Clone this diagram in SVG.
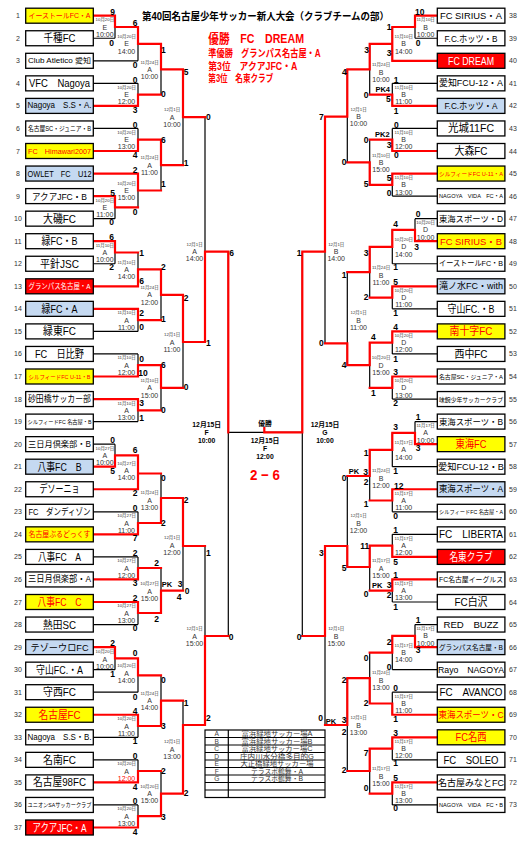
<svg xmlns="http://www.w3.org/2000/svg" width="529" height="853" viewBox="0 0 529 853">
<style>
text{font-family:"Liberation Sans","Noto Sans CJK JP",sans-serif;dominant-baseline:central}
.bx{fill:#fff;stroke:#000;stroke-width:1.3}
.y{fill:#ffff00}.r{fill:#ff0000}.b{fill:#c5d9f1}
.tn{text-anchor:middle;fill:#000}
.rt{fill:#ff0000}.wt{fill:#fff}
.num{font-size:7px;fill:#333;text-anchor:middle}
.k{stroke:#000;stroke-width:1.2;fill:none}
.rd{stroke:#ff0000;stroke-width:2.2;fill:none;stroke-linecap:square}
.sc{font-size:8.5px;font-weight:bold;text-anchor:middle;fill:#000}
.pk{font-size:7.5px;font-weight:bold;text-anchor:middle;fill:#000}
.d{font-size:4.4px;fill:#333;text-anchor:middle}
.c{font-size:7px;fill:#333;text-anchor:middle}
.fb{font-size:6.8px;font-weight:bold;text-anchor:middle;fill:#000}
.ttl{font-weight:bold;fill:#ff0000}
.lg{font-size:6.6px;fill:#444;text-anchor:middle}
.lv{font-size:6.3px;fill:#333;text-anchor:middle}
</style>

<text x="142" y="16" font-size="10" font-weight="bold" textLength="247" lengthAdjust="spacingAndGlyphs">第40回名古屋少年サッカー新人大会（クラブチームの部）</text>
<g id="results">
<text class="ttl" x="208.3" y="38.3" font-size="13" textLength="95.7" lengthAdjust="spacingAndGlyphs">優勝　FC　DREAM</text>
<text class="ttl" x="208.3" y="53.3" font-size="10" textLength="112.4" lengthAdjust="spacingAndGlyphs">準優勝　グランパス名古屋・A</text>
<text class="ttl" x="208.3" y="66.7" font-size="10" textLength="89" lengthAdjust="spacingAndGlyphs">第3位　アクアJFC・A</text>
<text class="ttl" x="208.3" y="78" font-size="10" textLength="65" lengthAdjust="spacingAndGlyphs">第3位　名東クラブ</text>
</g>

<g id="connectors">
<path class="k" d="M93.3 38.25H115M93.3 60.8H138M93.3 83.35H138M93.3 128.45H138M93.3 218.65H115M93.3 263.75H115M93.3 331.4H138M93.3 353.95H138M93.3 421.6H138M93.3 444.15H115M93.3 511.8H138M93.3 556.9H138M93.3 624.55H138M93.3 669.65H115M93.3 692.2H138M93.3 737.3H138M93.3 759.85H138M93.3 804.95H138
M115 15.7V38.25M138 27V60.8M138 83.35V105.9M161 43.9V94.6M138 128.45V151M115 196.1V218.65M138 173.55V207.4M161 139.7V190.5M183 69.3V165.1M115 241.2V263.75M138 252.5V286.3M138 308.85V331.4M161 269.4V320.1M138 353.95V376.5M138 399.05V421.6M161 365.2V410.3M183 294.8V387.8M205 117.2V342M115 444.15V466.7M138 455.4V489.25M138 511.8V534.35M161 473.5V523M138 556.9V579.45M138 602V624.55M161 568V613M183 498V590.7M115 647.1V669.65M138 658.4V692.2M138 714.75V737.3M161 675.3V726M138 759.85V782.4M138 804.95V827.5M161 771V816.2M183 700.7V793.6M205 546V725M228.3 251.7V636
M228.3 432.3H302.3
M437.3 38.25H415M437.3 83.35H392.3M437.3 128.45H392.3M437.3 196.1H392.3M437.3 218.65H415M437.3 263.75H392.3M437.3 308.85H392.3M437.3 353.95H392.3M437.3 399.05H392.3M437.3 421.6H415M437.3 466.7H392.3M437.3 511.8H392.3M437.3 534.35H392.3M437.3 602H392.3M437.3 624.55H415M437.3 669.65H392.3M437.3 692.2H392.3M437.3 759.85H392.3M437.3 804.95H392.3
M415 15.7V38.25M392.3 27V60.8M392.3 83.35V105.9M369.7 43.9V94.6M392.3 128.45V151M392.3 173.55V196.1M369.7 139.7V184.8M347.3 69.3V162.3M415 218.65V241.2M392.3 229.9V263.75M392.3 286.3V308.85M369.7 246.8V297.6M392.3 331.4V353.95M392.3 376.5V399.05M369.7 342.7V387.8M347.3 272.2V365.2M325 116.7V343.3M415 421.6V444.15M392.3 432.9V466.7M392.3 489.25V511.8M369.7 449.8V500.5M392.3 534.35V556.9M392.3 579.45V602M369.7 545.6V590.7M347.3 476V567M415 624.55V647.1M392.3 635.8V669.65M392.3 692.2V714.75M369.7 652.7V703.5M392.3 737.3V759.85M392.3 782.4V804.95M369.7 748.6V793.7M347.3 678.1V771M325 546V725M302.3 251.7V636"/>
<path class="rd" d="M93.3 15.7H115M93.3 105.9H138M93.3 151H138M93.3 173.55H138M93.3 196.1H115M93.3 241.2H115M93.3 286.3H138M93.3 308.85H138M93.3 376.5H138M93.3 399.05H138M93.3 466.7H115M93.3 489.25H138M93.3 534.35H138M93.3 579.45H138M93.3 602H138M93.3 647.1H115M93.3 714.75H138M93.3 782.4H138M93.3 827.5H138
M115 15.7V27H138M138 27V43.9H161M138 105.9V94.6H161M161 43.9V69.3H183M138 151V139.7H161M115 196.1V207.4H138M138 173.55V190.5H161M161 139.7V165.1H183M183 69.3V117.2H205
M115 241.2V252.5H138M138 286.3V269.4H161M138 308.85V320.1H161M161 269.4V294.8H183M138 376.5V365.2H161M138 399.05V410.3H161M161 365.2V387.8H183M183 294.8V342H205M205 342V251.7H228.3M228.3 251.7V432.3
M115 466.7V455.4H138M138 489.25V455.4M138 473.5H161M138 534.35V523H161M161 523V498H183M138 579.45V568H161M138 602V613H161M161 613V590.7H183M183 498V546H205M205 725V636H228.3
M115 647.1V658.4H138M138 658.4V675.3H161M138 714.75V726H161M161 726V700.7H183M138 782.4V771H161M138 827.5V816.2H161M161 816.2V793.6H183M183 793.6V725H205
M437.3 15.7H415M437.3 60.8H392.3M437.3 105.9H392.3M437.3 151H392.3M437.3 173.55H392.3M437.3 241.2H415M437.3 286.3H392.3M437.3 331.4H392.3M437.3 376.5H392.3M437.3 444.15H415M437.3 489.25H392.3M437.3 556.9H392.3M437.3 579.45H392.3M437.3 647.1H415M437.3 714.75H392.3M437.3 737.3H392.3M437.3 782.4H392.3
M415 15.7V27H392.3M392.3 27V60.8M392.3 43.9H369.7M392.3 105.9V94.6H369.7M369.7 43.9V69.3H347.3M392.3 151V139.7H369.7M392.3 173.55V184.8H369.7M369.7 184.8V162.3H347.3M347.3 69.3V116.7H325
M415 241.2V229.9H392.3M392.3 229.9V246.8H369.7M392.3 286.3V297.6H369.7M369.7 246.8V272.2H347.3M392.3 331.4V342.7H369.7M392.3 376.5V387.8H369.7M369.7 342.7V365.2H347.3M347.3 365.2V343.3H325M325 116.7V251.7H302.3M302.3 251.7V432.3H264.3V428
M415 444.15V432.9H392.3M392.3 432.9V449.8H369.7M392.3 489.25V500.5H369.7M369.7 449.8V476H347.3M392.3 556.9V545.6H369.7M392.3 579.45V590.7H369.7M369.7 545.6V567H347.3M347.3 567V546H325M325 546V636H302.3
M415 647.1V635.8H392.3M392.3 635.8V652.7H369.7M392.3 714.75V703.5H369.7M369.7 703.5V678.1H347.3M392.3 737.3V748.6H369.7M392.3 782.4V793.7H369.7M369.7 748.6V771H347.3M347.3 678.1V725H325"/>
</g>

<g id="teams-left">
<g id="team-1" transform="translate(0 15.7)"><rect class="bx y" x="25.7" y="-7.5" width="67.6" height="15"/><text class="tn rt" x="59.5" font-size="7.2" textLength="62" lengthAdjust="spacingAndGlyphs">イーストールFC・A</text><text class="num" x="18">1</text></g>
<g id="team-2" transform="translate(0 38.25)"><rect class="bx" x="25.7" y="-7.5" width="67.6" height="15"/><text class="tn" x="59.5" font-size="11" textLength="32" lengthAdjust="spacingAndGlyphs">千種FC</text><text class="num" x="18">2</text></g>
<g id="team-3" transform="translate(0 60.8)"><rect class="bx" x="25.7" y="-7.5" width="67.6" height="15"/><text class="tn" x="59.5" font-size="6.8" textLength="63" lengthAdjust="spacingAndGlyphs">Club Atletico 愛知</text><text class="num" x="18">3</text></g>
<g id="team-4" transform="translate(0 83.35)"><rect class="bx" x="25.7" y="-7.5" width="67.6" height="15"/><text class="tn" x="59.5" font-size="10.5" textLength="61" lengthAdjust="spacingAndGlyphs">VFC　Nagoya</text><text class="num" x="18">4</text></g>
<g id="team-5" transform="translate(0 105.9)"><rect class="bx b" x="25.7" y="-7.5" width="67.6" height="15"/><text class="tn" x="59.5" font-size="8.2" textLength="64" lengthAdjust="spacingAndGlyphs">Nagoya　S.S・A.</text><text class="num" x="18">5</text></g>
<g id="team-6" transform="translate(0 128.45)"><rect class="bx" x="25.7" y="-7.5" width="67.6" height="15"/><text class="tn" x="59.5" font-size="6.5" textLength="63" lengthAdjust="spacingAndGlyphs">名古屋SC・ジュニア・B</text><text class="num" x="18">6</text></g>
<g id="team-7" transform="translate(0 151)"><rect class="bx y" x="25.7" y="-7.5" width="67.6" height="15"/><text class="tn rt" x="59.5" font-size="7.5" textLength="63" lengthAdjust="spacingAndGlyphs">FC　Himawari2007</text><text class="num" x="18">7</text></g>
<g id="team-8" transform="translate(0 173.55)"><rect class="bx b" x="25.7" y="-7.5" width="67.6" height="15"/><text class="tn" x="59.5" font-size="8.5" textLength="64" lengthAdjust="spacingAndGlyphs">OWLET　FC　U12</text><text class="num" x="18">8</text></g>
<g id="team-9" transform="translate(0 196.1)"><rect class="bx" x="25.7" y="-7.5" width="67.6" height="15"/><text class="tn" x="59.5" font-size="9.5" textLength="55" lengthAdjust="spacingAndGlyphs">アクアJFC・B</text><text class="num" x="18">9</text></g>
<g id="team-10" transform="translate(0 218.65)"><rect class="bx" x="25.7" y="-7.5" width="67.6" height="15"/><text class="tn" x="59.5" font-size="11" textLength="33" lengthAdjust="spacingAndGlyphs">大磯FC</text><text class="num" x="18">10</text></g>
<g id="team-11" transform="translate(0 241.2)"><rect class="bx" x="25.7" y="-7.5" width="67.6" height="15"/><text class="tn" x="59.5" font-size="11" textLength="36" lengthAdjust="spacingAndGlyphs">緑FC・B</text><text class="num" x="18">11</text></g>
<g id="team-12" transform="translate(0 263.75)"><rect class="bx" x="25.7" y="-7.5" width="67.6" height="15"/><text class="tn" x="59.5" font-size="11" textLength="39" lengthAdjust="spacingAndGlyphs">平針JSC</text><text class="num" x="18">12</text></g>
<g id="team-13" transform="translate(0 286.3)"><rect class="bx r" x="25.7" y="-7.5" width="67.6" height="15"/><text class="tn wt" x="59.5" font-size="7.5" textLength="62" lengthAdjust="spacingAndGlyphs">グランパス名古屋・A</text><text class="num" x="18">13</text></g>
<g id="team-14" transform="translate(0 308.85)"><rect class="bx b" x="25.7" y="-7.5" width="67.6" height="15"/><text class="tn" x="59.5" font-size="11" textLength="36" lengthAdjust="spacingAndGlyphs">緑FC・A</text><text class="num" x="18">14</text></g>
<g id="team-15" transform="translate(0 331.4)"><rect class="bx" x="25.7" y="-7.5" width="67.6" height="15"/><text class="tn" x="59.5" font-size="11" textLength="33" lengthAdjust="spacingAndGlyphs">緑東FC</text><text class="num" x="18">15</text></g>
<g id="team-16" transform="translate(0 353.95)"><rect class="bx" x="25.7" y="-7.5" width="67.6" height="15"/><text class="tn" x="59.5" font-size="11" textLength="49" lengthAdjust="spacingAndGlyphs">FC　日比野</text><text class="num" x="18">16</text></g>
<g id="team-17" transform="translate(0 376.5)"><rect class="bx y" x="25.7" y="-7.5" width="67.6" height="15"/><text class="tn rt" x="59.5" font-size="6" textLength="62" lengthAdjust="spacingAndGlyphs">シルフィードFC U-11・B</text><text class="num" x="18">17</text></g>
<g id="team-18" transform="translate(0 399.05)"><rect class="bx" x="25.7" y="-7.5" width="67.6" height="15"/><text class="tn" x="59.5" font-size="9" textLength="63" lengthAdjust="spacingAndGlyphs">砂田橋サッカー部</text><text class="num" x="18">18</text></g>
<g id="team-19" transform="translate(0 421.6)"><rect class="bx" x="25.7" y="-7.5" width="67.6" height="15"/><text class="tn" x="59.5" font-size="5.6" textLength="64" lengthAdjust="spacingAndGlyphs">シルフィードFC 名古屋・B</text><text class="num" x="18">19</text></g>
<g id="team-20" transform="translate(0 444.15)"><rect class="bx" x="25.7" y="-7.5" width="67.6" height="15"/><text class="tn" x="59.5" font-size="8.5" textLength="63" lengthAdjust="spacingAndGlyphs">三日月倶楽部・B</text><text class="num" x="18">20</text></g>
<g id="team-21" transform="translate(0 466.7)"><rect class="bx b" x="25.7" y="-7.5" width="67.6" height="15"/><text class="tn" x="59.5" font-size="11" textLength="44" lengthAdjust="spacingAndGlyphs">八事FC　B</text><text class="num" x="18">21</text></g>
<g id="team-22" transform="translate(0 489.25)"><rect class="bx" x="25.7" y="-7.5" width="67.6" height="15"/><text class="tn" x="59.5" font-size="11" textLength="40" lengthAdjust="spacingAndGlyphs">デソーニョ</text><text class="num" x="18">22</text></g>
<g id="team-23" transform="translate(0 511.8)"><rect class="bx" x="25.7" y="-7.5" width="67.6" height="15"/><text class="tn" x="59.5" font-size="9.6" textLength="62" lengthAdjust="spacingAndGlyphs">FC　ダンディゾン</text><text class="num" x="18">23</text></g>
<g id="team-24" transform="translate(0 534.35)"><rect class="bx y" x="25.7" y="-7.5" width="67.6" height="15"/><text class="tn rt" x="59.5" font-size="7.8" textLength="62" lengthAdjust="spacingAndGlyphs">名古屋ぶるどっくす</text><text class="num" x="18">24</text></g>
<g id="team-25" transform="translate(0 556.9)"><rect class="bx" x="25.7" y="-7.5" width="67.6" height="15"/><text class="tn" x="59.5" font-size="11" textLength="43" lengthAdjust="spacingAndGlyphs">八事FC　A</text><text class="num" x="18">25</text></g>
<g id="team-26" transform="translate(0 579.45)"><rect class="bx" x="25.7" y="-7.5" width="67.6" height="15"/><text class="tn" x="59.5" font-size="9.2" textLength="63" lengthAdjust="spacingAndGlyphs">三日月倶楽部・A</text><text class="num" x="18">26</text></g>
<g id="team-27" transform="translate(0 602)"><rect class="bx y" x="25.7" y="-7.5" width="67.6" height="15"/><text class="tn rt" x="59.5" font-size="11" textLength="44" lengthAdjust="spacingAndGlyphs">八事FC　C</text><text class="num" x="18">27</text></g>
<g id="team-28" transform="translate(0 624.55)"><rect class="bx" x="25.7" y="-7.5" width="67.6" height="15"/><text class="tn" x="59.5" font-size="11" textLength="33" lengthAdjust="spacingAndGlyphs">熱田SC</text><text class="num" x="18">28</text></g>
<g id="team-29" transform="translate(0 647.1)"><rect class="bx b" x="25.7" y="-7.5" width="67.6" height="15"/><text class="tn" x="59.5" font-size="9.5" textLength="58" lengthAdjust="spacingAndGlyphs">テゾーウロFC</text><text class="num" x="18">29</text></g>
<g id="team-30" transform="translate(0 669.65)"><rect class="bx" x="25.7" y="-7.5" width="67.6" height="15"/><text class="tn" x="59.5" font-size="11" textLength="47" lengthAdjust="spacingAndGlyphs">守山FC.・A</text><text class="num" x="18">30</text></g>
<g id="team-31" transform="translate(0 692.2)"><rect class="bx" x="25.7" y="-7.5" width="67.6" height="15"/><text class="tn" x="59.5" font-size="11" textLength="33" lengthAdjust="spacingAndGlyphs">守西FC</text><text class="num" x="18">31</text></g>
<g id="team-32" transform="translate(0 714.75)"><rect class="bx y" x="25.7" y="-7.5" width="67.6" height="15"/><text class="tn rt" x="59.5" font-size="11" textLength="42" lengthAdjust="spacingAndGlyphs">名古屋FC</text><text class="num" x="18">32</text></g>
<g id="team-33" transform="translate(0 737.3)"><rect class="bx" x="25.7" y="-7.5" width="67.6" height="15"/><text class="tn" x="59.5" font-size="8.2" textLength="64" lengthAdjust="spacingAndGlyphs">Nagoya　S.S・B.</text><text class="num" x="18">33</text></g>
<g id="team-34" transform="translate(0 759.85)"><rect class="bx" x="25.7" y="-7.5" width="67.6" height="15"/><text class="tn" x="59.5" font-size="11" textLength="33" lengthAdjust="spacingAndGlyphs">名南FC</text><text class="num" x="18">34</text></g>
<g id="team-35" transform="translate(0 782.4)"><rect class="bx" x="25.7" y="-7.5" width="67.6" height="15"/><text class="tn" x="59.5" font-size="11" textLength="53" lengthAdjust="spacingAndGlyphs">名古屋98FC</text><text class="num" x="18">35</text></g>
<g id="team-36" transform="translate(0 804.95)"><rect class="bx" x="25.7" y="-7.5" width="67.6" height="15"/><text class="tn" x="59.5" font-size="5.8" textLength="64" lengthAdjust="spacingAndGlyphs">ユニオンSAサッカークラブ</text><text class="num" x="18">36</text></g>
<g id="team-37" transform="translate(0 827.5)"><rect class="bx r" x="25.7" y="-7.5" width="67.6" height="15"/><text class="tn wt" x="59.5" font-size="11" textLength="54" lengthAdjust="spacingAndGlyphs">アクアJFC・A</text><text class="num" x="18">37</text></g>
</g>

<g id="teams-right">
<g id="team-38" transform="translate(0 15.7)"><rect class="bx" x="437.3" y="-7.5" width="67.6" height="15"/><text class="tn" x="471" font-size="8.8" textLength="62" lengthAdjust="spacingAndGlyphs">FC SIRIUS・A</text><text class="num" x="513">38</text></g>
<g id="team-39" transform="translate(0 38.25)"><rect class="bx" x="437.3" y="-7.5" width="67.6" height="15"/><text class="tn" x="471" font-size="9.5" textLength="53" lengthAdjust="spacingAndGlyphs">F.C.ホッツ・B</text><text class="num" x="513">39</text></g>
<g id="team-40" transform="translate(0 60.8)"><rect class="bx r" x="437.3" y="-7.5" width="67.6" height="15"/><text class="tn wt" x="471" font-size="10.5" textLength="46" lengthAdjust="spacingAndGlyphs">FC DREAM</text><text class="num" x="513">40</text></g>
<g id="team-41" transform="translate(0 83.35)"><rect class="bx" x="437.3" y="-7.5" width="67.6" height="15"/><text class="tn" x="471" font-size="9.3" textLength="64" lengthAdjust="spacingAndGlyphs">愛知FCU-12・A</text><text class="num" x="513">41</text></g>
<g id="team-42" transform="translate(0 105.9)"><rect class="bx b" x="437.3" y="-7.5" width="67.6" height="15"/><text class="tn" x="471" font-size="9.5" textLength="53" lengthAdjust="spacingAndGlyphs">F.C.ホッツ・A</text><text class="num" x="513">42</text></g>
<g id="team-43" transform="translate(0 128.45)"><rect class="bx" x="437.3" y="-7.5" width="67.6" height="15"/><text class="tn" x="471" font-size="11" textLength="46" lengthAdjust="spacingAndGlyphs">光城11FC</text><text class="num" x="513">43</text></g>
<g id="team-44" transform="translate(0 151)"><rect class="bx" x="437.3" y="-7.5" width="67.6" height="15"/><text class="tn" x="471" font-size="11" textLength="33" lengthAdjust="spacingAndGlyphs">大森FC</text><text class="num" x="513">44</text></g>
<g id="team-45" transform="translate(0 173.55)"><rect class="bx y" x="437.3" y="-7.5" width="67.6" height="15"/><text class="tn rt" x="471" font-size="5.8" textLength="64" lengthAdjust="spacingAndGlyphs">シルフィードFC U-11・A</text><text class="num" x="513">45</text></g>
<g id="team-46" transform="translate(0 196.1)"><rect class="bx" x="437.3" y="-7.5" width="67.6" height="15"/><text class="tn" x="471" font-size="6" textLength="64" lengthAdjust="spacingAndGlyphs">NAGOYA　VIDA　FC・A</text><text class="num" x="513">46</text></g>
<g id="team-47" transform="translate(0 218.65)"><rect class="bx" x="437.3" y="-7.5" width="67.6" height="15"/><text class="tn" x="471" font-size="8.3" textLength="64" lengthAdjust="spacingAndGlyphs">東海スポーツ・D</text><text class="num" x="513">47</text></g>
<g id="team-48" transform="translate(0 241.2)"><rect class="bx y" x="437.3" y="-7.5" width="67.6" height="15"/><text class="tn rt" x="471" font-size="9.5" textLength="62" lengthAdjust="spacingAndGlyphs">FC SIRIUS・B</text><text class="num" x="513">48</text></g>
<g id="team-49" transform="translate(0 263.75)"><rect class="bx" x="437.3" y="-7.5" width="67.6" height="15"/><text class="tn" x="471" font-size="7.5" textLength="64" lengthAdjust="spacingAndGlyphs">イーストールFC・B</text><text class="num" x="513">49</text></g>
<g id="team-50" transform="translate(0 286.3)"><rect class="bx b" x="437.3" y="-7.5" width="67.6" height="15"/><text class="tn" x="471" font-size="9" textLength="64" lengthAdjust="spacingAndGlyphs">滝ノ水FC・with</text><text class="num" x="513">50</text></g>
<g id="team-51" transform="translate(0 308.85)"><rect class="bx" x="437.3" y="-7.5" width="67.6" height="15"/><text class="tn" x="471" font-size="11" textLength="47" lengthAdjust="spacingAndGlyphs">守山FC.・B</text><text class="num" x="513">51</text></g>
<g id="team-52" transform="translate(0 331.4)"><rect class="bx y" x="437.3" y="-7.5" width="67.6" height="15"/><text class="tn rt" x="471" font-size="11" textLength="43" lengthAdjust="spacingAndGlyphs">南十字FC</text><text class="num" x="513">52</text></g>
<g id="team-53" transform="translate(0 353.95)"><rect class="bx" x="437.3" y="-7.5" width="67.6" height="15"/><text class="tn" x="471" font-size="11" textLength="33" lengthAdjust="spacingAndGlyphs">西中FC</text><text class="num" x="513">53</text></g>
<g id="team-54" transform="translate(0 376.5)"><rect class="bx" x="437.3" y="-7.5" width="67.6" height="15"/><text class="tn" x="471" font-size="6.2" textLength="64" lengthAdjust="spacingAndGlyphs">名古屋SC・ジュニア・A</text><text class="num" x="513">54</text></g>
<g id="team-55" transform="translate(0 399.05)"><rect class="bx" x="437.3" y="-7.5" width="67.6" height="15"/><text class="tn" x="471" font-size="6.2" textLength="64" lengthAdjust="spacingAndGlyphs">味鋺少年サッカークラブ</text><text class="num" x="513">55</text></g>
<g id="team-56" transform="translate(0 421.6)"><rect class="bx" x="437.3" y="-7.5" width="67.6" height="15"/><text class="tn" x="471" font-size="8.3" textLength="64" lengthAdjust="spacingAndGlyphs">東海スポーツ・B</text><text class="num" x="513">56</text></g>
<g id="team-57" transform="translate(0 444.15)"><rect class="bx y" x="437.3" y="-7.5" width="67.6" height="15"/><text class="tn rt" x="471" font-size="11" textLength="31" lengthAdjust="spacingAndGlyphs">東海FC</text><text class="num" x="513">57</text></g>
<g id="team-58" transform="translate(0 466.7)"><rect class="bx" x="437.3" y="-7.5" width="67.6" height="15"/><text class="tn" x="471" font-size="9.3" textLength="66" lengthAdjust="spacingAndGlyphs">愛知FCU-12・B</text><text class="num" x="513">58</text></g>
<g id="team-59" transform="translate(0 489.25)"><rect class="bx b" x="437.3" y="-7.5" width="67.6" height="15"/><text class="tn" x="471" font-size="9" textLength="64" lengthAdjust="spacingAndGlyphs">東海スポーツ・A</text><text class="num" x="513">59</text></g>
<g id="team-60" transform="translate(0 511.8)"><rect class="bx" x="437.3" y="-7.5" width="67.6" height="15"/><text class="tn" x="471" font-size="5.5" textLength="64" lengthAdjust="spacingAndGlyphs">シルフィードFC 名古屋・A</text><text class="num" x="513">60</text></g>
<g id="team-61" transform="translate(0 534.35)"><rect class="bx" x="437.3" y="-7.5" width="67.6" height="15"/><text class="tn" x="471" font-size="10" textLength="64" lengthAdjust="spacingAndGlyphs">FC　LIBERTA</text><text class="num" x="513">61</text></g>
<g id="team-62" transform="translate(0 556.9)"><rect class="bx r" x="437.3" y="-7.5" width="67.6" height="15"/><text class="tn wt" x="471" font-size="11" textLength="43" lengthAdjust="spacingAndGlyphs">名東クラブ</text><text class="num" x="513">62</text></g>
<g id="team-63" transform="translate(0 579.45)"><rect class="bx" x="437.3" y="-7.5" width="67.6" height="15"/><text class="tn" x="471" font-size="7.2" textLength="64" lengthAdjust="spacingAndGlyphs">FC名古屋イーグルス</text><text class="num" x="513">63</text></g>
<g id="team-64" transform="translate(0 602)"><rect class="bx" x="437.3" y="-7.5" width="67.6" height="15"/><text class="tn" x="471" font-size="11" textLength="33" lengthAdjust="spacingAndGlyphs">FC白沢</text><text class="num" x="513">64</text></g>
<g id="team-65" transform="translate(0 624.55)"><rect class="bx" x="437.3" y="-7.5" width="67.6" height="15"/><text class="tn" x="471" font-size="9.5" textLength="55" lengthAdjust="spacingAndGlyphs">RED　BUZZ</text><text class="num" x="513">65</text></g>
<g id="team-66" transform="translate(0 647.1)"><rect class="bx b" x="437.3" y="-7.5" width="67.6" height="15"/><text class="tn" x="471" font-size="7" textLength="64" lengthAdjust="spacingAndGlyphs">グランパス名古屋・B</text><text class="num" x="513">66</text></g>
<g id="team-67" transform="translate(0 669.65)"><rect class="bx" x="437.3" y="-7.5" width="67.6" height="15"/><text class="tn" x="471" font-size="9.5" textLength="66" lengthAdjust="spacingAndGlyphs">Rayo　NAGOYA</text><text class="num" x="513">67</text></g>
<g id="team-68" transform="translate(0 692.2)"><rect class="bx" x="437.3" y="-7.5" width="67.6" height="15"/><text class="tn" x="471" font-size="10.5" textLength="63" lengthAdjust="spacingAndGlyphs">FC　AVANCO</text><text class="num" x="513">68</text></g>
<g id="team-69" transform="translate(0 714.75)"><rect class="bx y" x="437.3" y="-7.5" width="67.6" height="15"/><text class="tn rt" x="471" font-size="9" textLength="65" lengthAdjust="spacingAndGlyphs">東海スポーツ・C</text><text class="num" x="513">69</text></g>
<g id="team-70" transform="translate(0 737.3)"><rect class="bx y" x="437.3" y="-7.5" width="67.6" height="15"/><text class="tn rt" x="471" font-size="11" textLength="31" lengthAdjust="spacingAndGlyphs">FC名西</text><text class="num" x="513">70</text></g>
<g id="team-71" transform="translate(0 759.85)"><rect class="bx" x="437.3" y="-7.5" width="67.6" height="15"/><text class="tn" x="471" font-size="11" textLength="55" lengthAdjust="spacingAndGlyphs">FC　SOLEO</text><text class="num" x="513">71</text></g>
<g id="team-72" transform="translate(0 782.4)"><rect class="bx" x="437.3" y="-7.5" width="67.6" height="15"/><text class="tn" x="471" font-size="9.5" textLength="66" lengthAdjust="spacingAndGlyphs">名古屋みなとFC</text><text class="num" x="513">72</text></g>
<g id="team-73" transform="translate(0 804.95)"><rect class="bx" x="437.3" y="-7.5" width="67.6" height="15"/><text class="tn" x="471" font-size="6" textLength="64" lengthAdjust="spacingAndGlyphs">NAGOYA　VIDA　FC・B</text><text class="num" x="513">73</text></g>
</g>

<g id="match-labels">
<g transform="translate(104.8 27)"><text y="-7.3" class="d">10月20日</text><text class="c">E</text><text y="7.3" class="c">10:00</text></g>
<g transform="translate(126.5 43.9)"><text y="-7.3" class="d">10月20日</text><text class="c">E</text><text y="7.3" class="c">14:00</text></g>
<g transform="translate(126.5 94.6)"><text y="-7.3" class="d">10月20日</text><text class="c">E</text><text y="7.3" class="c">12:00</text></g>
<g transform="translate(149.5 69.3)"><text y="-7.3" class="d">11月24日</text><text class="c">A</text><text y="7.3" class="c">10:00</text></g>
<g transform="translate(126.5 139.7)"><text y="-7.3" class="d">10月20日</text><text class="c">E</text><text y="7.3" class="c">13:00</text></g>
<g transform="translate(104.8 207.4)"><text y="-7.3" class="d">10月20日</text><text class="c">E</text><text y="7.3" class="c">11:00</text></g>
<g transform="translate(126.5 190.5)"><text y="-7.3" class="d">10月20日</text><text class="c">E</text><text y="7.3" class="c">15:00</text></g>
<g transform="translate(149.5 165.1)"><text y="-7.3" class="d">11月24日</text><text class="c">A</text><text y="7.3" class="c">11:00</text></g>
<g transform="translate(172 117.2)"><text y="-7.3" class="d">12月1日</text><text class="c">A</text><text y="7.3" class="c">10:00</text></g>
<g transform="translate(104.8 252.5)"><text y="-7.3" class="d">11月10日</text><text class="c">A</text><text y="7.3" class="c">10:00</text></g>
<g transform="translate(126.5 269.4)"><text y="-7.3" class="d">11月10日</text><text class="c">A</text><text y="7.3" class="c">14:00</text></g>
<g transform="translate(126.5 320.1)"><text y="-7.3" class="d">11月10日</text><text class="c">A</text><text y="7.3" class="c">11:00</text></g>
<g transform="translate(149.5 294.8)"><text y="-7.3" class="d">11月24日</text><text class="c">A</text><text y="7.3" class="c">12:00</text></g>
<g transform="translate(126.5 365.2)"><text y="-7.3" class="d">11月10日</text><text class="c">A</text><text y="7.3" class="c">12:00</text></g>
<g transform="translate(126.5 410.3)"><text y="-7.3" class="d">11月10日</text><text class="c">A</text><text y="7.3" class="c">13:00</text></g>
<g transform="translate(149.5 387.8)"><text y="-7.3" class="d">11月10日</text><text class="c">A</text><text y="7.3" class="c">15:00</text></g>
<g transform="translate(172 342)"><text y="-7.3" class="d">12月1日</text><text class="c">A</text><text y="7.3" class="c">11:00</text></g>
<g transform="translate(194.5 251.7)"><text y="-7.3" class="d">12月1日</text><text class="c">A</text><text y="7.3" class="c">14:00</text></g>
<g transform="translate(104.8 455.4)"><text y="-7.3" class="d">10月27日</text><text class="c">A</text><text y="7.3" class="c">10:00</text></g>
<g transform="translate(126.5 470.7)"><text y="-7.3" class="d">10月27日</text><text class="c">A</text><text y="7.3" class="c">14:00</text></g>
<g transform="translate(126.5 523)"><text y="-7.3" class="d">10月27日</text><text class="c">A</text><text y="7.3" class="c">11:00</text></g>
<g transform="translate(149.5 500)"><text y="-7.3" class="d">11月24日</text><text class="c">A</text><text y="7.3" class="c">13:00</text></g>
<g transform="translate(126.5 568)"><text y="-7.3" class="d">10月27日</text><text class="c">A</text><text y="7.3" class="c">12:00</text></g>
<g transform="translate(126.5 613)"><text y="-7.3" class="d">10月27日</text><text class="c">A</text><text y="7.3" class="c">13:00</text></g>
<g transform="translate(149.5 591)"><text y="-7.3" class="d">10月27日</text><text class="c">A</text><text y="7.3" class="c">15:00</text></g>
<g transform="translate(172 545)"><text y="-7.3" class="d">12月1日</text><text class="c">A</text><text y="7.3" class="c">12:00</text></g>
<g transform="translate(104.8 659)"><text y="-7.3" class="d">10月20日</text><text class="c">A</text><text y="7.3" class="c">10:00</text></g>
<g transform="translate(126.5 673)"><text y="-7.3" class="d">10月20日</text><text class="c">A</text><text y="7.3" class="c">14:00</text></g>
<g transform="translate(126.5 726)"><text y="-7.3" class="d">10月20日</text><text class="c">A</text><text y="7.3" class="c">11:00</text></g>
<g transform="translate(149.5 700.7)"><text y="-7.3" class="d">11月24日</text><text class="c">A</text><text y="7.3" class="c">14:00</text></g>
<g transform="translate(126.5 771)"><text y="-7.3" class="d">10月20日</text><text class="c">A</text><text y="7.3" class="c" style="fill:#ff0000">12:00</text></g>
<g transform="translate(126.5 816)"><text y="-7.3" class="d">10月20日</text><text class="c">A</text><text y="7.3" class="c">13:00</text></g>
<g transform="translate(149.5 793.6)"><text y="-7.3" class="d">10月20日</text><text class="c">A</text><text y="7.3" class="c">15:00</text></g>
<g transform="translate(172 749)"><text y="-7.3" class="d">12月1日</text><text class="c">A</text><text y="7.3" class="c">13:00</text></g>
<g transform="translate(194.5 636)"><text y="-7.3" class="d">12月1日</text><text class="c">A</text><text y="7.3" class="c">15:00</text></g>

<g transform="translate(425.6 27)"><text y="-7.3" class="d">11月10日</text><text class="c">B</text><text y="7.3" class="c">10:00</text></g>
<g transform="translate(403.7 43.9)"><text y="-7.3" class="d">11月10日</text><text class="c">B</text><text y="7.3" class="c">14:00</text></g>
<g transform="translate(403.7 94.6)"><text y="-7.3" class="d">11月10日</text><text class="c">B</text><text y="7.3" class="c">11:00</text></g>
<g transform="translate(381 72)"><text y="-7.3" class="d">11月24日</text><text class="c">B</text><text y="7.3" class="c">10:00</text></g>
<g transform="translate(403.7 139.7)"><text y="-7.3" class="d">11月10日</text><text class="c">B</text><text y="7.3" class="c">12:00</text></g>
<g transform="translate(403.7 184.8)"><text y="-7.3" class="d">11月10日</text><text class="c">B</text><text y="7.3" class="c">13:00</text></g>
<g transform="translate(381 162.3)"><text y="-7.3" class="d">11月10日</text><text class="c">B</text><text y="7.3" class="c">15:00</text></g>
<g transform="translate(358.5 116.7)"><text y="-7.3" class="d">12月1日</text><text class="c">B</text><text y="7.3" class="c">10:00</text></g>
<g transform="translate(425.6 229.9)"><text y="-7.3" class="d">10月20日</text><text class="c">D</text><text y="7.3" class="c">10:00</text></g>
<g transform="translate(403.7 246.8)"><text y="-7.3" class="d">10月20日</text><text class="c">D</text><text y="7.3" class="c">14:00</text></g>
<g transform="translate(403.7 297.6)"><text y="-7.3" class="d">10月20日</text><text class="c">D</text><text y="7.3" class="c">11:00</text></g>
<g transform="translate(381 275)"><text y="-7.3" class="d">11月24日</text><text class="c">B</text><text y="7.3" class="c">11:00</text></g>
<g transform="translate(403.7 342.7)"><text y="-7.3" class="d">10月20日</text><text class="c">D</text><text y="7.3" class="c">12:00</text></g>
<g transform="translate(403.7 387.8)"><text y="-7.3" class="d">10月20日</text><text class="c">D</text><text y="7.3" class="c">13:00</text></g>
<g transform="translate(381 365.2)"><text y="-7.3" class="d">10月20日</text><text class="c">D</text><text y="7.3" class="c">15:00</text></g>
<g transform="translate(358.5 320)"><text y="-7.3" class="d">12月1日</text><text class="c">B</text><text y="7.3" class="c">11:00</text></g>
<g transform="translate(336.2 251.7)"><text y="-7.3" class="d">12月1日</text><text class="c">B</text><text y="7.3" class="c">14:00</text></g>
<g transform="translate(425.6 432.9)"><text y="-7.3" class="d">11月17日</text><text class="c">A</text><text y="7.3" class="c">10:00</text></g>
<g transform="translate(403.7 449.8)"><text y="-7.3" class="d">11月17日</text><text class="c">A</text><text y="7.3" class="c">14:00</text></g>
<g transform="translate(403.7 500.5)"><text y="-7.3" class="d">11月17日</text><text class="c">A</text><text y="7.3" class="c">11:00</text></g>
<g transform="translate(381 478)"><text y="-7.3" class="d">11月24日</text><text class="c">B</text><text y="7.3" class="c">12:00</text></g>
<g transform="translate(403.7 545.6)"><text y="-7.3" class="d">11月17日</text><text class="c">A</text><text y="7.3" class="c">12:00</text></g>
<g transform="translate(403.7 590.7)"><text y="-7.3" class="d">11月17日</text><text class="c">A</text><text y="7.3" class="c">13:00</text></g>
<g transform="translate(381 568)"><text y="-7.3" class="d">11月17日</text><text class="c">A</text><text y="7.3" class="c">15:00</text></g>
<g transform="translate(358.5 523)"><text y="-7.3" class="d">12月1日</text><text class="c">B</text><text y="7.3" class="c">12:00</text></g>
<g transform="translate(425.6 635.8)"><text y="-7.3" class="d">11月17日</text><text class="c">B</text><text y="7.3" class="c">10:00</text></g>
<g transform="translate(403.7 652.7)"><text y="-7.3" class="d">11月17日</text><text class="c">B</text><text y="7.3" class="c">14:00</text></g>
<g transform="translate(403.7 703.5)"><text y="-7.3" class="d">11月17日</text><text class="c">B</text><text y="7.3" class="c">11:00</text></g>
<g transform="translate(381 680)"><text y="-7.3" class="d">11月24日</text><text class="c">B</text><text y="7.3" class="c">13:00</text></g>
<g transform="translate(403.7 748.6)"><text y="-7.3" class="d">11月17日</text><text class="c">B</text><text y="7.3" class="c">12:00</text></g>
<g transform="translate(403.7 793.7)"><text y="-7.3" class="d">11月17日</text><text class="c">B</text><text y="7.3" class="c">13:00</text></g>
<g transform="translate(381 776)"><text y="-7.3" class="d">11月17日</text><text class="c">B</text><text y="7.3" class="c">15:00</text></g>
<g transform="translate(358.5 725)"><text y="-7.3" class="d">12月1日</text><text class="c">B</text><text y="7.3" class="c">13:00</text></g>
<g transform="translate(336.2 636)"><text y="-7.3" class="d">12月1日</text><text class="c">B</text><text y="7.3" class="c">15:00</text></g>
</g>

<g id="scores">
<text class="sc" x="112.7" y="12.3">9</text><text class="sc" x="111.7" y="42.7">0</text>
<text class="sc" x="135" y="22.7">6</text><text class="sc" x="135" y="65">0</text>
<text class="sc" x="135" y="80">0</text><text class="sc" x="135" y="110">3</text>
<text class="sc" x="163.3" y="50">1</text><text class="sc" x="163.3" y="94.3">0</text>
<text class="sc" x="135" y="125">0</text><text class="sc" x="135" y="155">4</text>
<text class="sc" x="112.7" y="192.7">5</text><text class="sc" x="111.7" y="222">0</text>
<text class="sc" x="135" y="170">2</text><text class="sc" x="135" y="211.7">0</text>
<text class="sc" x="163.3" y="140">6</text><text class="sc" x="163.3" y="184">1</text>
<text class="sc" x="186" y="71.7">5</text><text class="sc" x="186" y="162.7">1</text>
<text class="sc" x="208.3" y="116.7">0</text><text class="sc" x="208.3" y="342.7">1</text>
<text class="sc" x="111.7" y="236.7">6</text><text class="sc" x="111.7" y="267.3">2</text>
<text class="sc" x="141.7" y="252.7">1</text><text class="sc" x="141.7" y="281">6</text>
<text class="sc" x="141.7" y="312.7">2</text><text class="sc" x="141.7" y="327.3">0</text>
<text class="sc" x="163.3" y="267.3">2</text><text class="sc" x="163.3" y="319.3">1</text>
<text class="sc" x="141.7" y="359.3">0</text><text class="sc" x="143" y="373.3">10</text>
<text class="sc" x="141.7" y="403.3">3</text><text class="sc" x="141.7" y="418.3">1</text>
<text class="sc" x="163.3" y="365">6</text><text class="sc" x="163.3" y="410">0</text>
<text class="sc" x="186" y="298.3">2</text><text class="sc" x="186" y="386.7">0</text>
<text class="sc" x="231.7" y="252.7">6</text><text class="sc" x="231" y="636.7">0</text>
<text class="sc" x="112.7" y="440">0</text><text class="sc" x="112.7" y="470.7">5</text>
<text class="sc" x="135" y="450">6</text><text class="sc" x="135" y="492.7">2</text>
<text class="sc" x="135" y="507.7">0</text><text class="sc" x="135" y="538.3">7</text>
<text class="sc" x="163.3" y="478.3">0</text><text class="sc" x="163.3" y="523.3">2</text>
<text class="sc" x="135" y="553.3">2</text><text class="sc" x="135" y="583.3">3</text>
<text class="sc" x="135" y="598.3">2</text><text class="sc" x="135" y="628.3">0</text>
<text class="sc" x="156.7" y="562.7">2</text><text class="sc" x="156.7" y="619.3">2</text>
<text class="pk" x="167" y="584.3">PK</text><text class="sc" x="180" y="584.3">3</text><text class="sc" x="179" y="597">4</text>
<text class="sc" x="186" y="500">2</text><text class="sc" x="187" y="590.7">0</text>
<text class="sc" x="208.3" y="553.3">1</text><text class="sc" x="208.3" y="718.3">2</text>
<text class="sc" x="112.7" y="643.3">2</text><text class="sc" x="112.7" y="674.3">1</text>
<text class="sc" x="135" y="653.3">0</text><text class="sc" x="135" y="696.7">0</text>
<text class="sc" x="135" y="711">4</text><text class="sc" x="135" y="741">1</text>
<text class="sc" x="163.3" y="680">0</text><text class="sc" x="163.3" y="725.7">3</text>
<text class="sc" x="135" y="755.7">0</text><text class="sc" x="135" y="786.7">4</text>
<text class="sc" x="135" y="800.7">0</text><text class="sc" x="135" y="831.7">4</text>
<text class="sc" x="163.3" y="771">2</text><text class="sc" x="163.3" y="816.7">3</text>
<text class="sc" x="186" y="703.3">1</text><text class="sc" x="186" y="793.3">2</text>

<text class="sc" x="419.7" y="11.7">10</text><text class="sc" x="418" y="42.7">0</text>
<text class="sc" x="389" y="26.7">1</text><text class="sc" x="389" y="53.3">3</text>
<text class="sc" x="396" y="80">1</text><text class="pk" x="382.7" y="89.3">PK4</text><text class="sc" x="388.3" y="99.3">5</text><text class="sc" x="396" y="110.8">1</text>
<text class="sc" x="366.7" y="50">3</text><text class="sc" x="366" y="95">0</text>
<text class="sc" x="396.3" y="125">0</text><text class="pk" x="382.3" y="134">PK2</text><text class="sc" x="389" y="145">3</text><text class="sc" x="396.3" y="155">0</text>
<text class="sc" x="389" y="177.7">5</text><text class="sc" x="389" y="192.7">0</text>
<text class="sc" x="366" y="140">0</text><text class="sc" x="366" y="184.3">5</text>
<text class="sc" x="344.3" y="71.7">4</text><text class="sc" x="344" y="162.3">0</text>
<text class="sc" x="321.3" y="116.7">7</text><text class="sc" x="321.3" y="343.3">0</text>
<text class="sc" x="418" y="214">0</text><text class="sc" x="416.5" y="246.5">3</text>
<text class="sc" x="395.7" y="224">4</text><text class="sc" x="395.7" y="267.3">1</text>
<text class="sc" x="395.7" y="281.7">5</text><text class="sc" x="395.7" y="312.7">1</text>
<text class="sc" x="366" y="252.7">3</text><text class="sc" x="366" y="297.3">2</text>
<text class="sc" x="395.7" y="327.3">4</text><text class="sc" x="395.7" y="358.8">1</text>
<text class="sc" x="395.7" y="372.3">3</text><text class="sc" x="395.7" y="402.7">2</text>
<text class="sc" x="373.3" y="336.7">4</text><text class="sc" x="373.3" y="392.7">1</text>
<text class="sc" x="344" y="275">1</text><text class="sc" x="344" y="365">4</text>
<text class="sc" x="299" y="252.7">1</text><text class="sc" x="299" y="636.5">0</text>
<text class="sc" x="418" y="417.3">1</text><text class="sc" x="418" y="448.3">3</text>
<text class="sc" x="395.7" y="426.7">3</text><text class="sc" x="395.7" y="470.7">1</text>
<text class="sc" x="398.7" y="486">12</text><text class="sc" x="395.7" y="516">0</text>
<text class="sc" x="366" y="453.3">1</text><text class="pk" x="354" y="471.7">PK</text><text class="sc" x="365.7" y="471.7">3</text><text class="sc" x="366" y="482">2</text><text class="sc" x="366" y="504">1</text>
<text class="sc" x="395.7" y="530">1</text><text class="sc" x="395.7" y="561.7">5</text>
<text class="sc" x="395.7" y="575">1</text><text class="pk" x="377.3" y="585">PK</text><text class="sc" x="389" y="585">3</text><text class="sc" x="389" y="595">2</text><text class="sc" x="395.7" y="606.7">1</text>
<text class="sc" x="364.7" y="546">11</text><text class="sc" x="366" y="594">0</text>
<text class="sc" x="344" y="478.3">0</text><text class="sc" x="344" y="568.3">5</text>
<text class="sc" x="321.3" y="553.3">3</text><text class="sc" x="320.7" y="718.3">0</text>
<text class="sc" x="418" y="620">1</text><text class="sc" x="418" y="650">3</text>
<text class="sc" x="389" y="641.7">2</text><text class="sc" x="389" y="666.7">0</text>
<text class="sc" x="395.7" y="688.3">0</text><text class="sc" x="395.7" y="719">1</text>
<text class="sc" x="366" y="658.3">0</text><text class="sc" x="366" y="703.3">2</text>
<text class="sc" x="395.7" y="733.3">3</text><text class="sc" x="395.7" y="763.3">1</text>
<text class="sc" x="395.7" y="778.3">5</text><text class="sc" x="395.7" y="808.3">0</text>
<text class="sc" x="366" y="753.3">7</text><text class="sc" x="366" y="788.3">0</text>
<text class="sc" x="344" y="680">2</text><text class="pk" x="331" y="721">PK</text><text class="sc" x="344" y="720">3</text><text class="sc" x="344" y="731.7">2</text><text class="sc" x="344" y="770">2</text>
</g>

<g id="final">
<text class="fb" x="206.7" y="424.5">12月15日</text><text class="fb" x="206.7" y="432.5">F</text><text class="fb" x="206.7" y="440.5">10:00</text>
<text class="fb" x="325" y="424.5">12月15日</text><text class="fb" x="325" y="432.5">G</text><text class="fb" x="325" y="440.5">10:00</text>
<text class="fb" x="265" y="423.5" font-size="7.5">優勝</text>
<text class="fb" x="265" y="440">12月15日</text><text class="fb" x="265" y="448">F</text><text class="fb" x="265" y="456">12:00</text>
<text x="265" y="474" font-size="15" font-weight="bold" fill="#ff0000" text-anchor="middle" textLength="30" lengthAdjust="spacingAndGlyphs">2 − 6</text>
</g>

<g id="legend">
<rect x="205" y="730" width="120" height="67.5" fill="none" stroke="#000" stroke-width="1.2"/>
<path class="k" d="M228.3 730V797.5M205 737.5H325M205 745H325M205 752.5H325M205 760H325M205 767.5H325M205 775H325M205 782.5H325M205 790H325"/>
<text class="lg" x="216.7" y="733.75">A</text><text class="lv" x="277" y="733.75" textLength="71" lengthAdjust="spacingAndGlyphs">富浜緑地サッカー場A</text>
<text class="lg" x="216.7" y="741.25">B</text><text class="lv" x="277" y="741.25" textLength="71" lengthAdjust="spacingAndGlyphs">富浜緑地サッカー場B</text>
<text class="lg" x="216.7" y="748.75">C</text><text class="lv" x="277" y="748.75" textLength="71" lengthAdjust="spacingAndGlyphs">富浜緑地サッカー場C</text>
<text class="lg" x="216.7" y="756.25">D</text><text class="lv" x="277" y="756.25" textLength="74" lengthAdjust="spacingAndGlyphs">庄内川水分橋多目的G</text>
<text class="lg" x="216.7" y="763.75">E</text><text class="lv" x="277" y="763.75" textLength="73" lengthAdjust="spacingAndGlyphs">大正橋緑地サッカー場</text>
<text class="lg" x="216.7" y="771.25">F</text><text class="lv" x="277" y="771.25" textLength="52" lengthAdjust="spacingAndGlyphs">テラスポ鶴舞・A</text>
<text class="lg" x="216.7" y="778.75">G</text><text class="lv" x="277" y="778.75" textLength="52" lengthAdjust="spacingAndGlyphs">テラスポ鶴舞・B</text>
</g>
</svg>
